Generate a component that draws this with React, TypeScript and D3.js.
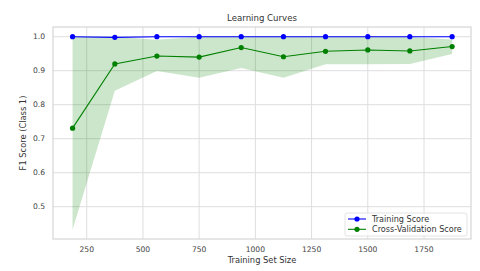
import React, { useEffect, useRef } from 'react';
import * as d3 from 'd3';

// data
const trainSizes = [187, 375, 562, 750, 937, 1125, 1312, 1500, 1687, 1875];
const trainScores = [1.0, 0.998, 1.0, 1.0, 1.0, 1.0, 1.0, 1.0, 1.0, 1.0];
const cvScores = [0.731, 0.92, 0.943, 0.94, 0.968, 0.941, 0.957, 0.961, 0.958, 0.971];
const cvLower = [0.433, 0.841, 0.899, 0.879, 0.908, 0.879, 0.919, 0.919, 0.92, 0.949];
const cvUpper = [1.0, 1.0, 0.991, 1.0, 1.0, 1.0, 1.0, 1.0, 0.999, 0.992];
const xTicks = [250, 500, 750, 1000, 1250, 1500, 1750];
const yTicks = [0.5, 0.6, 0.7, 0.8, 0.9, 1.0];

const w = 480;
const h = 271;
const margin = { top: 27, right: 9, bottom: 32, left: 53 };
const width = w - margin.left - margin.right;
const height = h - margin.top - margin.bottom;

const App = () => {
  const svgRef = useRef<SVGSVGElement>(null);

  useEffect(() => {
    const root = d3.select(svgRef.current);
    root.selectAll('*').remove();

    const svg = root.append('g')
      .attr('transform', `translate(${margin.left}, ${margin.top})`);

    const xScale = d3.scaleLinear().domain([100, 1959]).range([0, width]);
    const yScale = d3.scaleLinear().domain([0.405, 1.0285]).range([height, 0]);

    const font = 'DejaVu Sans, sans-serif';

    // grid
    svg.selectAll('.vgrid').data(xTicks).enter().append('line')
      .attr('x1', d => xScale(d)).attr('x2', d => xScale(d))
      .attr('y1', 0).attr('y2', height)
      .attr('stroke', '#dedede').attr('stroke-width', 1);
    svg.selectAll('.hgrid').data(yTicks).enter().append('line')
      .attr('y1', d => yScale(d)).attr('y2', d => yScale(d))
      .attr('x1', 0).attr('x2', width)
      .attr('stroke', '#dedede').attr('stroke-width', 1);

    // frame
    svg.append('rect')
      .attr('width', width).attr('height', height)
      .attr('fill', 'none').attr('stroke', '#d6d6d6').attr('stroke-width', 1.2);

    // band
    const area = d3.area<number>()
      .x((d, i) => xScale(trainSizes[i]))
      .y0((d, i) => yScale(cvLower[i]))
      .y1((d, i) => yScale(cvUpper[i]));
    svg.append('path').datum(cvScores)
      .attr('d', area)
      .attr('fill', 'green').attr('fill-opacity', 0.2);

    const line = d3.line<number>()
      .x((d, i) => xScale(trainSizes[i]))
      .y(d => yScale(d));

    const series = [
      { values: trainScores, color: 'blue' },
      { values: cvScores, color: 'green' },
    ];
    series.forEach(s => {
      svg.append('path').datum(s.values)
        .attr('d', line)
        .attr('fill', 'none').attr('stroke', s.color).attr('stroke-width', 1.1);
      svg.selectAll(null).data(s.values).enter().append('circle')
        .attr('cx', (d, i) => xScale(trainSizes[i]))
        .attr('cy', d => yScale(d))
        .attr('r', 2.6)
        .attr('fill', s.color);
    });

    // tick labels
    svg.selectAll('.xt').data(xTicks).enter().append('text')
      .attr('x', d => xScale(d)).attr('y', height + 12.5)
      .attr('text-anchor', 'middle')
      .attr('font-family', font).attr('font-size', 7.6)
      .attr('fill', '#444')
      .text(d => d);
    svg.selectAll('.yt').data(yTicks).enter().append('text')
      .attr('x', -8).attr('y', d => yScale(d))
      .attr('dy', '0.35em')
      .attr('text-anchor', 'end')
      .attr('font-family', font).attr('font-size', 7.6)
      .attr('fill', '#444')
      .text(d => d.toFixed(1));

    // title and labels
    svg.append('text')
      .attr('x', width / 2).attr('y', -6)
      .attr('text-anchor', 'middle')
      .attr('font-family', font).attr('font-size', 8.6)
      .attr('fill', '#333')
      .text('Learning Curves');
    svg.append('text')
      .attr('x', width / 2).attr('y', height + 24)
      .attr('text-anchor', 'middle')
      .attr('font-family', font).attr('font-size', 8.3)
      .attr('fill', '#333')
      .text('Training Set Size');
    svg.append('text')
      .attr('transform', `translate(${-27}, ${height / 2}) rotate(-90)`)
      .attr('text-anchor', 'middle')
      .attr('font-family', font).attr('font-size', 8.3)
      .attr('fill', '#333')
      .text('F1 Score (Class 1)');

    // legend
    const lg = svg.append('g')
      .attr('transform', `translate(${292}, ${186})`);
    lg.append('rect')
      .attr('width', 122).attr('height', 23)
      .attr('rx', 2)
      .attr('fill', 'white').attr('fill-opacity', 0.8)
      .attr('stroke', '#dcdcdc').attr('stroke-width', 0.8);
    const labels = ['Training Score', 'Cross-Validation Score'];
    labels.forEach((label, i) => {
      const y = 6 + i * 10.3;
      lg.append('line')
        .attr('x1', 3).attr('x2', 21).attr('y1', y).attr('y2', y)
        .attr('stroke', series[i].color).attr('stroke-width', 1.1);
      lg.append('circle')
        .attr('cx', 12).attr('cy', y).attr('r', 2.6)
        .attr('fill', series[i].color);
      lg.append('text')
        .attr('x', 27).attr('y', y).attr('dy', '0.35em')
        .attr('font-family', font).attr('font-size', 8.1)
        .attr('fill', '#333')
        .text(label);
    });
  }, []);

  return (
    <svg ref={svgRef} width={w} height={h}
      style={{ position: 'absolute', left: 0, top: 0, background: 'white' }} />
  );
};

export default App;
